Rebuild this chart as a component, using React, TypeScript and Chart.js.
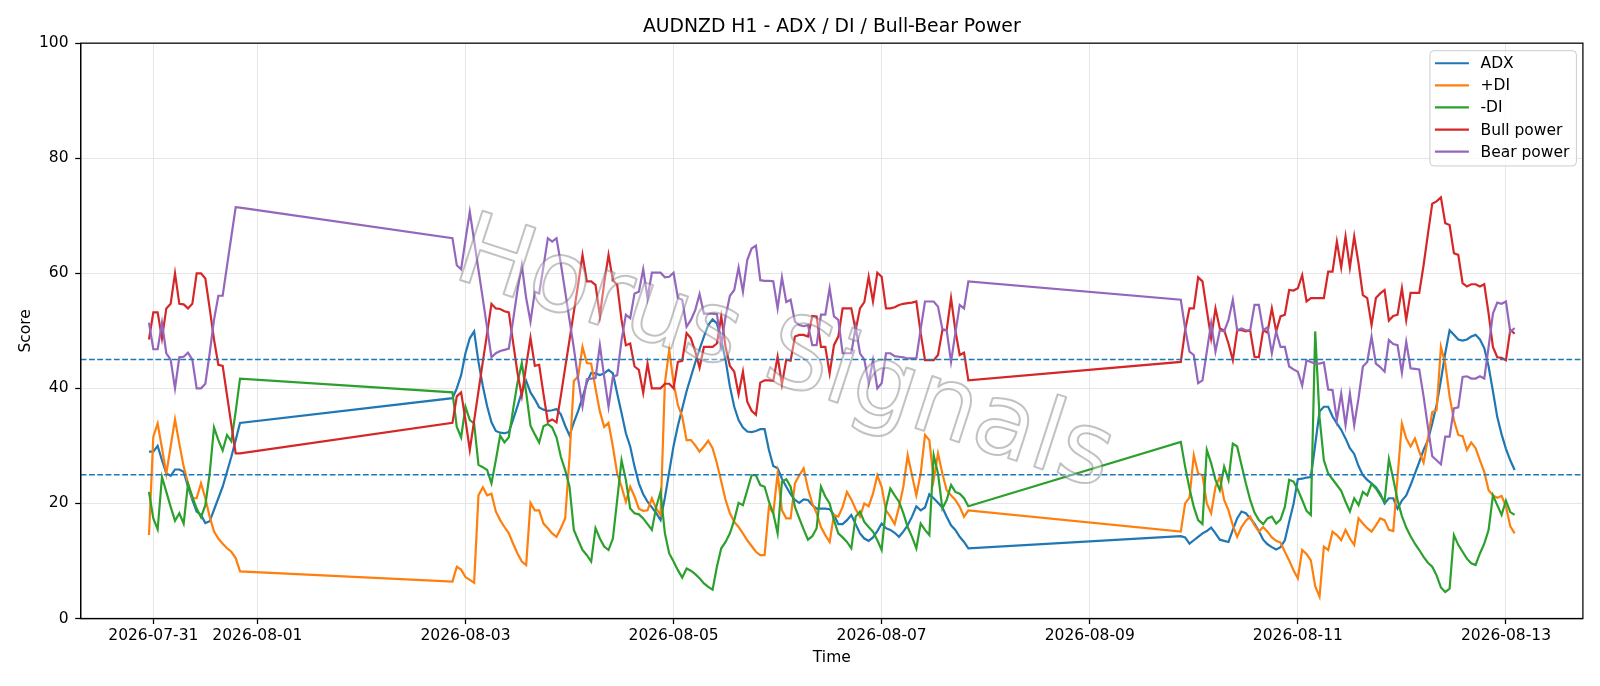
import React, { useEffect, useRef } from 'react'
import { Chart, registerables } from 'chart.js'

Chart.register(...registerables)
Chart.defaults.font.family = "'DejaVu Sans', sans-serif"

// hours counted from 2026-07-31 00:00, one bar per hour, no data over the weekends
const HOUR_RANGES: [number, number][] = [[-1, 20], [69, 188], [237, 314]]

const TICK_HOURS = [0, 24, 72, 120, 168, 216, 264, 312]
const TICK_LABELS = ['2026-07-31', '2026-08-01', '2026-08-03', '2026-08-05', '2026-08-07', '2026-08-09', '2026-08-11', '2026-08-13']

const LEVELS = [25, 45]

const ADX = [
  29, 29, 30, 27.5, 25.2, 24.8, 25.9, 25.9, 25.5, 22.9, 20.6, 18.6, 18, 16.6, 16.9, 18.9, 20.9, 22.9, 25.5, 28.1, 31, 34,
  38.3, 40, 42.3, 46.1, 48.7, 49.9, 44.6, 40.4, 36.9, 34.1,
  32.6, 32.3, 32.2, 32.4, 34.6, 36.9, 39.3, 41.3, 39.3, 38.1,
  36.7, 36.3, 36.1, 36.2, 36.4, 35.5, 33.5, 31.8, 34.1, 36.1,
  38.4, 41, 42.7, 42.6, 42.3, 42.6, 43.2, 42.6, 39.1, 35.7,
  32.2, 29.9, 26.4, 23.5, 21.6, 20.3, 19.3, 18.3, 17.1, 21,
  25.5, 30, 33.5, 36.5, 39.5, 42, 44.5, 46.8, 49, 51,
  52, 51.3, 48.4, 44.9, 40.3, 36.8, 34.5, 33.2, 32.5, 32.4,
  32.6, 32.9, 32.9, 29.3, 26.5, 26.1, 24.3, 22.9, 21.6, 20.6,
  20.1, 20.7, 20.6, 19.7, 19.1, 19.1, 19.1, 19, 18, 16.4,
  16.4, 17.1, 18, 16.4, 14.8, 13.9, 13.5, 14.1, 15.2, 16.5,
  15.7, 15.4, 14.9, 14.2, 15.1, 16.2, 17.7, 19.5, 18.8, 19.3,
  21.6, 20.9, 20.1, 19.3, 17.7, 16.2, 15.4, 14.2, 13.3, 12.2,
  14.3, 14.1, 13, 13.6, 14.2, 14.8, 15.2, 15.8, 14.8, 13.7,
  13.5, 13.3, 15.4, 17.4, 18.6, 18.3, 17.4, 16.5, 15.2, 13.7,
  12.9, 12.4, 12, 12.4, 13.6, 16.8, 19.9, 24.2, 24.3, 24.5,
  24.6, 30.2, 36, 36.8, 36.8, 35.1, 33.9, 32.8, 31.3, 29.6,
  28.6, 26.5, 24.9, 24.1, 23.5, 22.8, 21.7, 20, 20.9, 20.9,
  19.1, 20.5, 21.4, 23.2, 25.2, 27.2, 29.3, 31, 33.9, 37.1,
  41.4, 46.1, 50.1, 49.3, 48.5, 48.3, 48.5, 49, 49.3, 48.5,
  47, 43.8, 39.5, 35, 32, 29.5, 27.5, 25.8,
]

const PLUS_DI = [
  14.5, 31.6, 33.9, 29.6, 25.2, 29.9, 34.6, 30.4, 26.4, 23.5, 20.9, 20.9, 23.5, 20.9, 17.7, 15.1, 13.9, 13, 12.2, 11.6, 10.5, 8.2,
  6.4, 9, 8.5, 7.2, 6.7, 6.2, 21.4, 22.8, 21.4, 21.7,
  18.6, 17.1, 15.9, 14.8, 13, 11.3, 9.9, 9.3, 20.1, 18.8,
  18.8, 16.5, 15.7, 14.8, 14.2, 15.7, 17.4, 28, 41.3, 42.1,
  47.2, 44.4, 44.3, 40, 36, 33.3, 34, 29.9, 25.2, 22.9,
  20.3, 22.9, 21.2, 19.1, 18.7, 18.8, 20.9, 19.1, 18, 40.9,
  46.7, 40.9, 37.1, 35.1, 31, 31, 30.1, 29, 29.9, 30.9,
  29.6, 27, 23.8, 20.6, 18.3, 16.8, 15.9, 14.8, 13.6, 12.6,
  11.6, 11, 11, 19.4, 18.3, 25.2, 18.8, 17.4, 17.4, 23.5,
  24.9, 26.1, 22.6, 20, 18.3, 15.9, 14.5, 13.3, 18, 17.7,
  19.4, 22, 20.7, 19, 17.7, 20, 19.5, 21.7, 24.9, 22.9,
  18.8, 17.7, 16.4, 19.4, 22.9, 28.4, 24.9, 21.4, 25.2, 31.9,
  31, 24.1, 28.7, 25.2, 22.3, 21.4, 20.6, 19.4, 17.7, 18.8,
  15.1, 20, 21, 28.4, 25.2, 24.9, 20, 18.3, 22.9, 24.6,
  20.6, 18.8, 16.2, 14.2, 15.9, 17, 17.7, 16.2, 15.1, 15.9,
  15.1, 14.1, 13.5, 13.2, 11.6, 10.1, 8.4, 7, 11.9, 11.2,
  10.1, 5.6, 3.8, 12.5, 11.9, 15.1, 14.5, 13.6, 15.4, 13.9,
  12.8, 17.4, 16.5, 15.7, 15.1, 16.2, 17.4, 17.1, 15.4, 15.2,
  24.6, 33.9, 31.3, 29.9, 31.3, 29, 27.1, 31.3, 35.9, 36.2,
  47.2, 44.3, 38.6, 34.5, 31.9, 31.7, 29.3, 30.6, 29.6, 27.5,
  25.5, 22.3, 21.4, 21, 21.3, 19.5, 16, 14.8,
]

const MINUS_DI = [
  22, 17.4, 15.5, 24.6, 22, 19.4, 17, 18.3, 16.5, 23.4, 21.2, 19.1, 17.6, 19.7, 25.2, 33.2, 31, 29.2, 31.9, 30.8, 36, 41.7,
  39.3, 33.3, 31.5, 36.8, 34.5, 33.9, 26.7, 26.3, 25.8, 23.5,
  27.5, 31.8, 30.6, 31.5, 36.4, 41, 44.4, 39.3, 33.5, 32,
  30.6, 33.4, 33.8, 33.2, 31.5, 28.1, 25.8, 22.9, 15.4, 13.6,
  11.9, 11, 9.9, 15.7, 13.9, 12.5, 11.9, 13.9, 20.6, 27.5,
  24.1, 19.1, 18.3, 18.1, 17.4, 16.4, 15.4, 19.4, 22, 14.8,
  11.3, 9.9, 8.4, 7.1, 8.7, 8.3, 7.7, 7, 6.1, 5.5,
  5, 9, 12.2, 13.3, 14.8, 17.1, 20.1, 19.7, 22.3, 24.9,
  24.9, 23.2, 22.9, 20.3, 18.3, 14.8, 23.8, 24.2, 22.9, 19.4,
  17.4, 15.5, 13.7, 14.3, 15.7, 22.9, 21.2, 20, 17.1, 14.8,
  14.1, 13.3, 12.2, 17.7, 18.6, 16.8, 15.9, 15.1, 13.6, 11.9,
  19.4, 22.6, 21.4, 20.3, 18.3, 15.9, 14.2, 12.2, 16.5, 15.4,
  14.5, 28.4, 25.2, 19.1, 20.6, 23.2, 22, 21.7, 20.9, 19.5,
  30.7, 26.4, 22.6, 19.4, 17.1, 16.4, 29.3, 27, 24.1, 22.3,
  26.4, 24.1, 30.4, 29.9, 26.7, 23.5, 20.6, 18.4, 17.1, 16.4,
  17.4, 17.7, 16.5, 17.2, 19.4, 24.1, 23.8, 22.4, 20.6, 18.7,
  18, 49.9, 35, 27.5, 25.2, 24.2, 23.2, 22.2, 20.3, 18.6,
  20.9, 19.7, 22, 21.4, 23.4, 22.6, 21.4, 20.3, 27.7, 24.3,
  20.6, 17.8, 15.8, 14.3, 13, 11.9, 10.7, 9.7, 9, 7.5,
  5.4, 4.6, 5.2, 14.5, 12.8, 11.6, 10.4, 9.6, 9.3, 11.3,
  13, 15.4, 21.4, 19.7, 18, 20.5, 18.5, 18,
]

const BULL = [
  48.5, 53.2, 53.2, 48.7, 53.9, 54.7, 60, 54.7, 54.6, 53.9, 54.7, 60, 60, 59.1, 53.9, 48.5, 44.1, 43.9, 38.8, 33.7, 28.7, 28.7,
  34, 38.6, 39.3, 34.5, 29.3, 34.4, 39.5, 44.6, 49.6, 54.7,
  53.9, 53.8, 53.4, 53.2, 47.9, 42.7, 38.7, 43.9, 48.8, 43.9,
  44.1, 39, 34.2, 34.6, 34.1, 38.7, 43.6, 48.4, 53.3, 58.1,
  63.2, 58.6, 58.6, 58, 52.6, 58.3, 63.2, 58.8, 58, 51.9,
  47.5, 47.8, 43.8, 43.2, 39.2, 44.3, 40, 40, 40, 40.8,
  40.8, 40, 44.6, 44.8, 49.6, 48.7, 46.4, 43.6, 47.2, 47.2,
  47.2, 47.8, 52.5, 47.2, 43.9, 42.9, 39, 42.9, 37.7, 36.1,
  35.4, 41, 41.4, 41.4, 41.3, 45.5, 40.7, 45, 44.8, 49,
  49.3, 49.3, 49, 52.6, 52.5, 47.2, 47.2, 42.6, 47.5, 49,
  53.9, 53.9, 53.9, 50.1, 53.9, 55, 59.4, 55.1, 60.1, 59.4,
  53.9, 53.9, 54.1, 54.5, 54.7, 54.8, 54.9, 55.1, 49.6, 44.9,
  44.9, 44.9, 45.8, 50.1, 50.1, 55.7, 50.1, 45.8, 46.2, 41.4,
  44.6, 50.1, 53.9, 53.9, 59.3, 58.6, 53.6, 48.7, 53.9, 50.4,
  50.1, 47.8, 44.9, 50.1, 50.1, 49.9, 50.1, 45.5, 45.4, 50.1,
  49.7, 53.9, 49.9, 52.5, 52.8, 57.1, 57, 57.4, 59.7, 55.1,
  55.7, 55.7, 55.7, 55.7, 60.3, 60.3, 65.5, 61, 66.4, 61,
  66.4, 61.7, 56.2, 55.7, 51, 55.7, 56.5, 57.1, 51.8, 52.6,
  52.8, 57.4, 51.9, 56.6, 56.6, 56.6, 61.4, 66.8, 72.1, 72.5,
  73.2, 68.7, 68.4, 63.5, 63.2, 58.3, 57.7, 58.1, 58.1, 57.7,
  58.1, 53, 47.2, 45.4, 45.3, 44.9, 50.2, 49.5,
]

const BEAR = [
  51.4, 46.8, 46.8, 51.4, 46.1, 45, 40, 45.4, 45.5, 46.2, 45, 40, 40, 40.8, 46.1, 51.9, 56.1, 56.1, 61.3, 66.4, 71.5, 71.4,
  66.1, 61.4, 60.7, 65.8, 70.7, 65.7, 60.6, 55.6, 50.5, 45.4,
  46.1, 46.5, 46.7, 46.9, 51.9, 57.1, 61.4, 55.7, 51.6, 56.8,
  56.5, 61.2, 66.1, 65.5, 66.1, 61.7, 56.8, 51.9, 47, 41.6,
  36.9, 41.6, 41.7, 41.8, 47.5, 42, 36.8, 42, 42.3, 48.4,
  52.8, 52.2, 56.5, 56.8, 60.7, 55.7, 60.1, 60.1, 60.1, 59.3,
  59.4, 60.1, 55.7, 55.4, 50.7, 51.9, 53.6, 56.4, 53, 53,
  53, 52.9, 47.5, 52.5, 56.1, 57.1, 61, 56.8, 62.3, 64.3,
  64.8, 58.8, 58.7, 58.7, 58.6, 53.9, 59.3, 55, 55.4, 51.6,
  51, 50.8, 51, 47.5, 47.5, 52.8, 52.8, 57.4, 52.5, 51.9,
  46.1, 46.1, 46.1, 50.7, 46.1, 45, 40.9, 44.9, 40, 40.9,
  46.1, 46.1, 45.6, 45.5, 45.4, 45.2, 45.2, 45.2, 50.3, 55.1,
  55.1, 55.1, 54.2, 50.3, 50.1, 44.6, 49.6, 54.5, 53.9, 58.6,
  55.4, 50.4, 46.4, 45.8, 40.9, 41.4, 46.4, 51.3, 46.4, 50.1,
  49.9, 51.9, 55.4, 50.1, 50.4, 50.1, 50.1, 54.5, 54.5, 50.1,
  50.6, 46.1, 49.9, 47.2, 47.2, 43.8, 43.3, 42.9, 40.5, 44.9,
  44.6, 44.3, 44.3, 44.5, 39.8, 39.7, 34.5, 39.1, 33.6, 39.1,
  33.6, 38.3, 43.8, 44.6, 49, 44.3, 43.7, 42.9, 48.4, 47.7,
  47.5, 42.7, 48.1, 43.5, 43.4, 43.3, 38.6, 33.3, 28.2, 27.5,
  26.8, 31.6, 31.6, 36.5, 36.7, 42, 42.1, 41.7, 41.7, 42.1,
  41.7, 47.2, 53, 54.9, 54.7, 55.1, 49.8, 50.5,
]

const HOURS: number[] = []
for (const [a, b] of HOUR_RANGES) for (let h = a; h <= b; h++) HOURS.push(h)

const X_MIN = -16.75
const X_MAX = 329.75
const GRID = '#e6e6e6'
const FONT = 15.5
const WATERMARK = 'Horus Signals'

const SERIES = [
  { label: 'ADX', values: ADX, color: '#1f77b4' },
  { label: '+DI', values: PLUS_DI, color: '#ff7f0e' },
  { label: '-DI', values: MINUS_DI, color: '#2ca02c' },
  { label: 'Bull power', values: BULL, color: '#d62728' },
  { label: 'Bear power', values: BEAR, color: '#9467bd' },
]

// matplotlib-like frame: top and right spines
const framePlugin = {
  id: 'frame',
  afterDatasetsDraw(chart: any) {
    const { ctx, chartArea: a } = chart
    ctx.save()
    ctx.strokeStyle = '#000'
    ctx.lineWidth = 1.25
    ctx.strokeRect(a.left, a.top, a.right - a.left, a.bottom - a.top)
    ctx.restore()
  },
}

const watermarkPlugin = {
  id: 'watermark',
  afterDatasetsDraw(chart: any) {
    const { ctx } = chart
    ctx.save()
    ctx.translate(784, 358)
    ctx.rotate((18 * Math.PI) / 180)
    ctx.font = "100px 'DejaVu Sans'"
    ctx.textAlign = 'center'
    ctx.textBaseline = 'middle'
    ctx.lineJoin = 'round'
    ctx.fillStyle = 'rgba(255,255,255,0.35)'
    ctx.fillText(WATERMARK, 0, 0)
    ctx.strokeStyle = 'rgba(110,110,110,0.42)'
    ctx.lineWidth = 2
    ctx.strokeText(WATERMARK, 0, 0)
    ctx.restore()
  },
}

const legendPlugin = {
  id: 'mplLegend',
  afterDraw(chart: any) {
    const { ctx, chartArea: a } = chart
    const items = chart.data.datasets.filter((d: any) => !d.isLevel)
    ctx.save()
    ctx.font = `${FONT}px 'DejaVu Sans'`
    const textW = Math.max(...items.map((d: any) => ctx.measureText(d.label).width))
    const w = 50.6 + textW + 7
    const h = 115.3
    const right = a.right - 6.5
    const left = right - w
    const top = a.top + 7.5
    ctx.beginPath()
    ctx.roundRect(left, top, w, h, 4)
    ctx.fillStyle = 'rgba(255,255,255,0.8)'
    ctx.fill()
    ctx.strokeStyle = '#cccccc'
    ctx.lineWidth = 1
    ctx.stroke()
    ctx.textBaseline = 'middle'
    ctx.textAlign = 'left'
    items.forEach((d: any, i: number) => {
      const y = top + 12.6 + i * 22.1
      ctx.beginPath()
      ctx.moveTo(left + 5, y)
      ctx.lineTo(left + 39, y)
      ctx.strokeStyle = d.borderColor
      ctx.lineWidth = 2.2
      ctx.stroke()
      ctx.fillStyle = '#000'
      ctx.fillText(d.label, left + 50.6, y + 1)
    })
    ctx.restore()
  },
}

export default function App() {
  const canvasRef = useRef<HTMLCanvasElement>(null)
  const chartRef = useRef<Chart | null>(null)

  useEffect(() => {
    if (!canvasRef.current) return
    document.body.style.margin = '0'
    chartRef.current?.destroy()

    const lineSets = SERIES.map((s, i) => ({
      label: s.label,
      data: HOURS.map((h, j) => ({ x: h, y: s.values[j] })),
      borderColor: s.color,
      backgroundColor: s.color,
      borderWidth: 2.2,
      pointRadius: 0,
      tension: 0,
      fill: false,
      order: SERIES.length - i,
    }))
    const levelSets = LEVELS.map(v => ({
      label: `level ${v}`,
      isLevel: true,
      data: [{ x: X_MIN, y: v }, { x: X_MAX, y: v }],
      borderColor: '#1f77b4',
      borderWidth: 1.5,
      borderDash: [5.8, 2.5],
      pointRadius: 0,
      fill: false,
      order: 0,
    }))

    chartRef.current = new Chart(canvasRef.current, {
      type: 'line',
      data: { datasets: [...lineSets, ...levelSets] as any },
      options: {
        responsive: false,
        animation: false,
        devicePixelRatio: 1,
        layout: { padding: { left: 0, right: 17.1, top: 0, bottom: 0 } },
        plugins: {
          legend: { display: false },
          tooltip: { enabled: false },
          title: {
            display: true,
            text: 'AUDNZD H1 - ADX / DI / Bull-Bear Power',
            fullSize: false,
            color: '#000',
            font: { size: 18.8, weight: 'normal' },
            padding: { top: 15.6, bottom: 5 },
          },
        },
        scales: {
          x: {
            type: 'linear',
            min: X_MIN,
            max: X_MAX,
            afterBuildTicks: (s: any) => {
              s.ticks = TICK_HOURS.map(v => ({ value: v }))
            },
            afterFit: (s: any) => {
              s.height = 67.5
            },
            ticks: {
              callback: (v: any) => TICK_LABELS[TICK_HOURS.indexOf(Number(v))] ?? '',
              color: '#000',
              font: { size: FONT },
              padding: 2.5,
              maxRotation: 0,
              autoSkip: false,
            },
            grid: { color: GRID, lineWidth: 1, tickColor: '#000', tickLength: 5.5, tickWidth: 1.25 },
            border: { color: '#000', width: 1.25 },
            title: { display: true, text: 'Time', color: '#000', font: { size: FONT }, padding: { top: 0, bottom: 19 } },
          },
          y: {
            min: 0,
            max: 100,
            afterFit: (s: any) => {
              s.width = 80.7
            },
            ticks: { stepSize: 20, color: '#000', font: { size: FONT }, padding: 6.7 },
            grid: { color: GRID, lineWidth: 1, tickColor: '#000', tickLength: 5.5, tickWidth: 1.25 },
            border: { color: '#000', width: 1.25 },
            title: { display: true, text: 'Score', color: '#000', font: { size: FONT }, padding: { top: 17, bottom: 0 } },
          },
        },
      },
      plugins: [framePlugin, watermarkPlugin, legendPlugin],
    })

    return () => {
      chartRef.current?.destroy()
      chartRef.current = null
    }
  }, [])

  return (
    <div style={{ width: 1600, height: 686, background: '#fff' }}>
      <canvas ref={canvasRef} width={1600} height={686} style={{ display: 'block' }} />
    </div>
  )
}
